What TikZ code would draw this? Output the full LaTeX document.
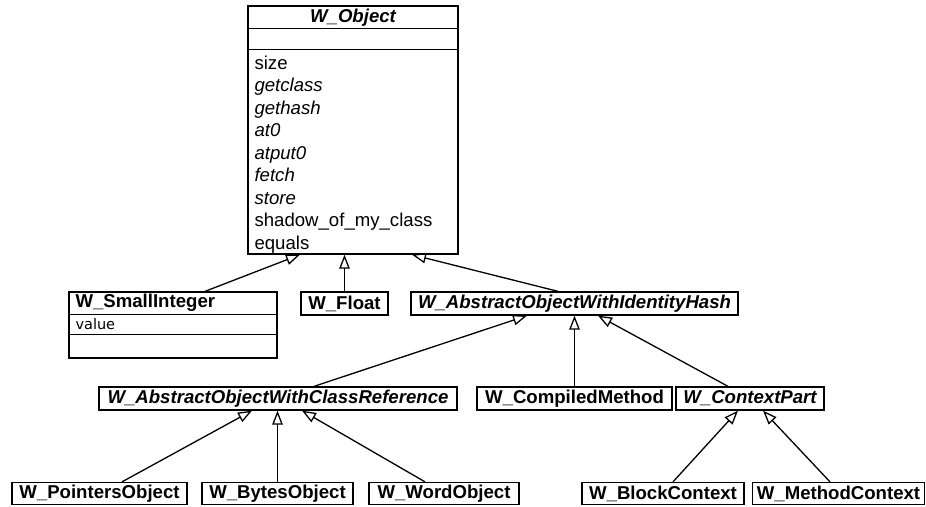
\documentclass[tikz,border=0pt]{standalone}
\usepackage{fontspec}
\setmainfont{Liberation Sans}
\newfontfamily\valuefont{DejaVu Sans}
\usetikzlibrary{arrows.meta}
\tikzset{
CLASS/.style={draw=black, line width=1.3pt, inner sep=0pt, minimum height=23pt, font=\fontsize{18.6}{20}\selectfont\bfseries},
ABSTRACT/.style={CLASS, font=\fontsize{18.6}{20}\selectfont\bfseries\itshape},
LABEL/.style={inner sep=0pt, font=\fontsize{18.6}{20}\selectfont\bfseries},
SEP/.style={draw=black, line width=1.3pt},
INHERIT/.style={draw=black, line width=1.3pt, -{Triangle[open, length=14pt, width=10.5pt, line width=1.3pt]}},
}
\begin{document}
\begin{tikzpicture}[x=1pt, y=-1pt]
	\path[use as bounding box, fill=white] (0,0) rectangle (926,506);
	%Root class
	\node[CLASS, minimum width=210pt, minimum height=248pt] (obj) at (353,130) {};
	\node[LABEL, font=\fontsize{18.6}{20}\selectfont\bfseries\itshape] (objname) at (353,17.5) {W\_Object};
	\path[SEP] ([yshift=-23pt]obj.north west) -- ([yshift=-23pt]obj.north east);
	\path[SEP] ([yshift=-44pt]obj.north west) -- ([yshift=-44pt]obj.north east);
	\node[inner sep=0pt, anchor=north west, align=left, font=\fontsize{18.6}{22.5}\selectfont]
		(objmethods) at ([xshift=7pt, yshift=-50pt]obj.north west)
		{size\\ \textit{getclass}\\ \textit{gethash}\\ \textit{at0}\\ \textit{atput0}\\
		 \textit{fetch}\\ \textit{store}\\ shadow\_of\_my\_class\\ equals};
	%Second row
	\node[CLASS, minimum width=208pt, minimum height=66pt] (smallint) at (173,325) {};
	\node[LABEL, anchor=west] (smallintname) at ([xshift=7pt, yshift=-11.5pt]smallint.north west) {W\_SmallInteger};
	\path[SEP] ([yshift=-23pt]smallint.north west) -- ([yshift=-23pt]smallint.north east);
	\path[SEP] ([yshift=-43pt]smallint.north west) -- ([yshift=-43pt]smallint.north east);
	\node[inner sep=0pt, anchor=west, font=\valuefont\fontsize{14.5}{16}\selectfont]
		(smallintvalue) at ([xshift=7pt, yshift=-33pt]smallint.north west) {value};
	\node[CLASS, minimum width=87pt] (float) at (344.5,303.5) {W\_Float};
	\node[ABSTRACT, minimum width=327pt] (idhash) at (574.5,303.5) {W\_AbstractObjectWithIdentityHash};
	%Third row
	\node[ABSTRACT, minimum width=358pt] (classref) at (278,398.5) {W\_AbstractObjectWithClassReference};
	\node[CLASS, minimum width=195pt] (compiled) at (574.5,398.5) {W\_CompiledMethod};
	\node[ABSTRACT, minimum width=148pt] (context) at (750,398.5) {W\_ContextPart};
	%Leaves
	\node[CLASS, minimum width=175pt, minimum height=22pt] (pointers) at (99.5,493.5) {W\_PointersObject};
	\node[CLASS, minimum width=151pt, minimum height=22pt] (bytes) at (277.5,493.5) {W\_BytesObject};
	\node[CLASS, minimum width=150pt, minimum height=22pt] (word) at (444,493.5) {W\_WordObject};
	\node[CLASS, minimum width=162pt, minimum height=22pt] (block) at (663,493.5) {W\_BlockContext};
	\node[CLASS, minimum width=172pt, minimum height=22pt] (method) at (838.5,493.5) {W\_MethodContext};
	%Inheritance
	\path[INHERIT] ([xshift=32pt]smallint.north) -- ([xshift=-53pt]obj.south);
	\path[INHERIT] (float.north) -- (float.north |- obj.south);
	\path[INHERIT] ([xshift=-16.5pt]idhash.north) -- ([xshift=59pt]obj.south);
	\path[INHERIT] ([xshift=36pt]classref.north) -- ([xshift=-47.5pt]idhash.south);
	\path[INHERIT] (compiled.north) -- (compiled.north |- idhash.south);
	\path[INHERIT] ([xshift=-22pt]context.north) -- ([xshift=23.5pt]idhash.south);
	\path[INHERIT] ([xshift=22.5pt]pointers.north) -- ([xshift=-26pt]classref.south);
	\path[INHERIT] (bytes.north) -- (bytes.north |- classref.south);
	\path[INHERIT] ([xshift=-19pt]word.north) -- ([xshift=24pt]classref.south);
	\path[INHERIT] ([xshift=10pt]block.north) -- ([xshift=-12pt]context.south);
	\path[INHERIT] ([xshift=-8.5pt]method.north) -- ([xshift=13pt]context.south);
\end{tikzpicture}
\end{document}
